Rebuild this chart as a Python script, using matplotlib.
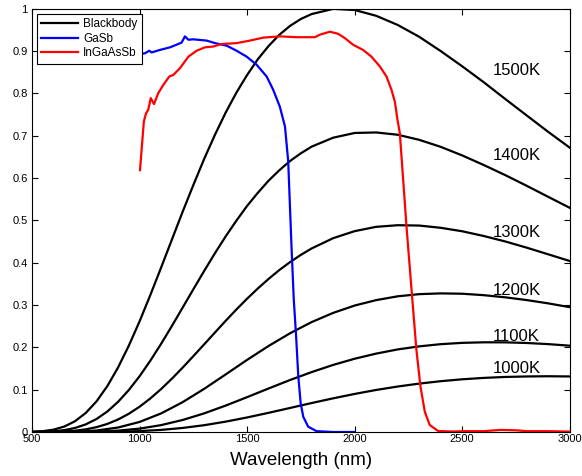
import matplotlib
matplotlib.use("Agg")
import matplotlib.pyplot as plt

plt.rcParams['font.family'] = ['Liberation Sans', 'DejaVu Sans']

# Blackbody curves, normalised to the 1500K peak
# the three hotter curves are read every 50 nm up to 1800 nm, then every 100 nm
wl_fine = [500, 550, 600, 650, 700, 750, 800, 850, 900, 950, 1000, 1050, 1100, 1150,
           1200, 1250, 1300, 1350, 1400, 1450, 1500, 1550, 1600, 1650, 1700, 1750,
           1800, 1900, 2000, 2100, 2200, 2300, 2400, 2500, 2600, 2700, 2800, 2900, 3000]
wl_bb = [500, 600, 700, 800, 900, 1000, 1100, 1200, 1300, 1400, 1500, 1600, 1700,
         1800, 1900, 2000, 2100, 2200, 2300, 2400, 2500, 2600, 2700, 2800, 2900, 3000]

bb_1500 = [0.0006, 0.0020, 0.0056, 0.0129, 0.0255, 0.0451, 0.0725, 0.1084, 0.1525,
           0.2040, 0.2615, 0.3236, 0.3884, 0.4543, 0.5202, 0.5836, 0.6450, 0.7019,
           0.7546, 0.8019, 0.8437, 0.8811, 0.9123, 0.9388, 0.9599, 0.9761, 0.9877,
           0.9999, 0.9973, 0.9836, 0.9620, 0.9340, 0.9002, 0.8642, 0.8266, 0.7870,
           0.7480, 0.7092, 0.6719]
bb_1400 = [0.0001, 0.0006, 0.0018, 0.0045, 0.0096, 0.0181, 0.0308, 0.0484, 0.0713,
           0.0992, 0.1318, 0.1685, 0.2083, 0.2503, 0.2938, 0.3373, 0.3803, 0.4222,
           0.4621, 0.4994, 0.5344, 0.5654, 0.5941, 0.6187, 0.6406, 0.6587, 0.6744,
           0.6955, 0.7067, 0.7079, 0.7025, 0.6905, 0.6739, 0.6536, 0.6310, 0.6071,
           0.5818, 0.5557, 0.5298]
bb_1300 = [0.0000, 0.0001, 0.0005, 0.0013, 0.0031, 0.0063, 0.0115, 0.0191, 0.0296,
           0.0431, 0.0598, 0.0793, 0.1015, 0.1259, 0.1520, 0.1793, 0.2070, 0.2349,
           0.2626, 0.2895, 0.3151, 0.3393, 0.3619, 0.3829, 0.4017, 0.4187, 0.4338,
           0.4581, 0.4747, 0.4849, 0.4887, 0.4879, 0.4826, 0.4744, 0.4632, 0.4503,
           0.4356, 0.4199, 0.4041]
bb_1200 = [0.0000, 0.0001, 0.0008, 0.0036, 0.0106, 0.0238, 0.0439, 0.0705, 0.1019,
           0.1360, 0.1705, 0.2034, 0.2335, 0.2598, 0.2815, 0.2989, 0.3117, 0.3207,
           0.3258, 0.3276, 0.3268, 0.3234, 0.3183, 0.3118, 0.3040, 0.2950]
bb_1100 = [0.0000, 0.0000, 0.0002, 0.0009, 0.0032, 0.0080, 0.0163, 0.0284, 0.0440,
           0.0624, 0.0824, 0.1029, 0.1230, 0.1416, 0.1586, 0.1732, 0.1853, 0.1952,
           0.2024, 0.2076, 0.2107, 0.2120, 0.2119, 0.2104, 0.2077, 0.2040]
bb_1000 = [0.0000, 0.0000, 0.0000, 0.0002, 0.0007, 0.0022, 0.0050, 0.0096, 0.0161,
           0.0245, 0.0344, 0.0454, 0.0569, 0.0685, 0.0796, 0.0900, 0.0994, 0.1075,
           0.1144, 0.1201, 0.1246, 0.1279, 0.1301, 0.1313, 0.1318, 0.1313]
bb_curves = [(wl_fine, bb_1500), (wl_fine, bb_1400), (wl_fine, bb_1300),
             (wl_bb, bb_1200), (wl_bb, bb_1100), (wl_bb, bb_1000)]
bb_labels = ["1500K", "1400K", "1300K", "1200K", "1100K", "1000K"]
label_y = [0.854, 0.653, 0.472, 0.334, 0.225, 0.150]
label_x = 2640

# GaSb response
wl_gasb = [1000, 1025, 1045, 1056, 1095, 1141, 1180, 1195, 1211, 1227, 1250, 1312,
           1351, 1405, 1451, 1498, 1544, 1591, 1621, 1652, 1676, 1691, 1707, 1717,
           1727, 1738, 1749, 1761, 1784, 1823, 1900, 2000]
gasb = [0.893, 0.895, 0.901, 0.897, 0.903, 0.909, 0.917, 0.920, 0.935, 0.927, 0.928,
        0.925, 0.919, 0.913, 0.901, 0.887, 0.868, 0.840, 0.809, 0.769, 0.722, 0.640,
        0.430, 0.312, 0.233, 0.131, 0.068, 0.036, 0.0125, 0.002, 0.0, 0.0]

# InGaAsSb response
wl_ingaassb = [1002, 1020, 1030, 1040, 1052, 1067, 1087, 1110, 1138, 1157, 1188, 1227,
               1265, 1304, 1343, 1381, 1451, 1513, 1575, 1652, 1730, 1815, 1838, 1885,
               1923, 1954, 1993, 2039, 2078, 2117, 2148, 2171, 2187, 2199, 2210, 2241,
               2267, 2287, 2306, 2326, 2349, 2388, 2456, 2500, 2600, 2680, 2750, 2800,
               2900, 3000]
ingaassb = [0.619, 0.734, 0.753, 0.761, 0.789, 0.775, 0.801, 0.820, 0.840, 0.844,
            0.860, 0.887, 0.901, 0.909, 0.911, 0.917, 0.919, 0.925, 0.932, 0.935,
            0.933, 0.933, 0.939, 0.946, 0.941, 0.931, 0.915, 0.903, 0.887, 0.864,
            0.840, 0.809, 0.780, 0.738, 0.706, 0.485, 0.320, 0.194, 0.107, 0.048,
            0.0165, 0.0024, 0.001, 0.002, 0.002, 0.005, 0.004, 0.002, 0.002, 0.001]

fig = plt.figure(figsize=(5.82, 4.76), dpi=100)
ax = fig.add_axes([0.055, 0.0924, 0.924, 0.889])

for i, (wl, curve) in enumerate(bb_curves):
    ax.plot(wl, curve, color='black', lw=1.6,
            label="Blackbody" if i == 0 else None)
    ax.text(label_x, label_y[i], bb_labels[i], fontsize=12, va='center', ha='left')

ax.plot(wl_gasb, gasb, color='blue', lw=1.6, label="GaSb")
ax.plot(wl_ingaassb, ingaassb, color='red', lw=1.6, label="InGaAsSb")

ax.set_xlim(500, 3000)
ax.set_ylim(0, 1)
ax.set_xticks([500, 1000, 1500, 2000, 2500, 3000])
ax.set_yticks([0, 0.1, 0.2, 0.3, 0.4, 0.5, 0.6, 0.7, 0.8, 0.9, 1])
ax.set_yticklabels(["0", "0.1", "0.2", "0.3", "0.4", "0.5", "0.6", "0.7", "0.8", "0.9", "1"])
ax.tick_params(direction='in', top=True, right=True, length=4, labelsize=8)
ax.tick_params(axis='x', pad=1.5)
ax.tick_params(axis='y', pad=3)
ax.set_xlabel("Wavelength (nm)", fontsize=13.5)
ax.xaxis.set_label_coords(0.5, -0.048)

leg = ax.legend(loc='upper left', fontsize=8.5, frameon=True, fancybox=False,
                edgecolor='black', framealpha=1, borderaxespad=0.45,
                handlelength=3.1, handletextpad=0.45, borderpad=0.35, labelspacing=0.22)
leg.get_frame().set_linewidth(0.8)
leg.set_zorder(5)

fig.savefig("out.png", dpi=100)
